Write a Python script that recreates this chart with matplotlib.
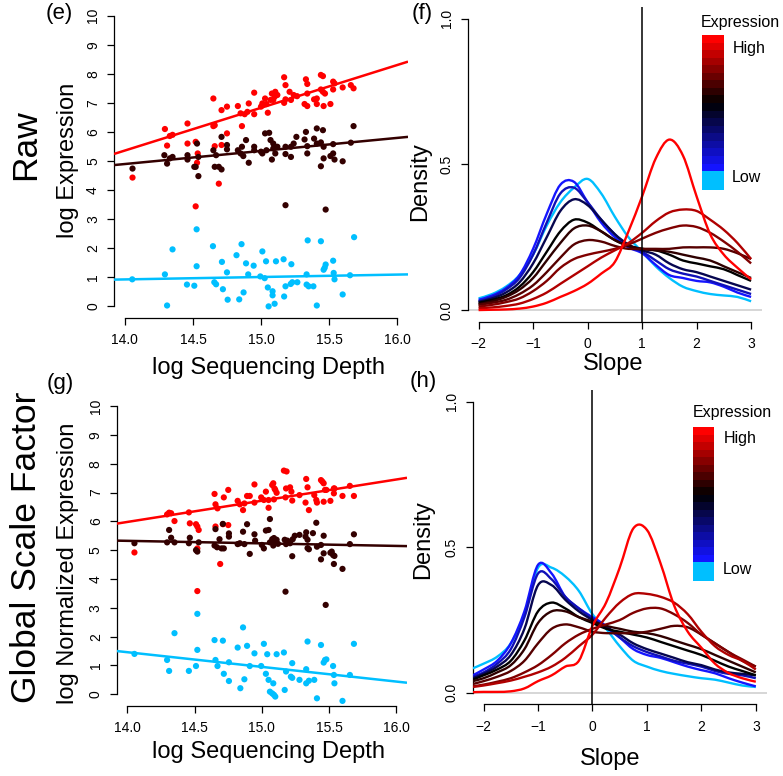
import matplotlib
matplotlib.use('Agg')
import matplotlib.pyplot as plt
import numpy as np
from matplotlib.patches import Rectangle, PathPatch
from matplotlib.path import Path
from matplotlib.colors import LinearSegmentedColormap

plt.rcParams['font.family'] = ['Liberation Sans', 'DejaVu Sans']

# ---------------- data ----------------
# scatter (e): raw log expression vs log sequencing depth
raw_high = [(14.056,4.43),(14.294,6.10),(14.31,5.53),(14.33,5.86),(14.35,5.90),(14.46,6.29),(14.46,5.60),
            (14.52,5.66),(14.535,5.26),(14.53,4.94),(14.52,3.44),(14.65,7.15),(14.65,6.20),(14.66,6.23),
            (14.66,5.51),(14.69,4.22),(14.71,5.55),(14.71,6.75),(14.75,6.87),(14.75,5.95),(14.83,6.89),
            (14.85,6.64),(14.86,6.20),(14.88,6.61),(14.90,6.69),(14.91,6.98),(14.95,7.35),(14.95,6.61),
            (15.00,6.87),(15.01,6.98),(15.03,7.15),(15.04,6.96),(15.05,6.66),(15.07,7.10),(15.08,7.32),
            (15.09,7.10),(15.10,7.21),(15.105,7.38),(15.12,7.27),(15.17,7.88),(15.17,7.00),(15.18,7.61),
            (15.18,7.12),(15.21,7.38),(15.22,7.10),(15.24,7.27),(15.265,7.23),(15.33,7.81),(15.34,7.65),
            (15.32,6.96),(15.34,6.89),(15.34,7.32),(15.39,7.12),(15.41,7.15),(15.41,6.96),(15.44,7.96),
            (15.455,7.92),(15.44,7.46),(15.455,7.38),(15.47,7.32),(15.46,6.89),(15.51,6.96),(15.53,7.73),
            (15.54,7.67),(15.53,7.46),(15.60,7.53),(15.66,7.61),(15.68,7.50)]
raw_mid = [(14.056,4.74),(14.29,5.20),(14.31,4.91),(14.33,5.09),(14.35,5.14),(14.46,5.20),(14.46,5.05),
           (14.52,4.80),(14.53,5.60),(14.54,5.14),(14.54,4.48),(14.51,4.80),(14.65,5.37),(14.66,4.80),
           (14.67,5.20),(14.69,4.80),(14.71,4.71),(14.71,5.83),(14.75,5.55),(14.75,5.40),(14.83,5.37),
           (14.85,5.26),(14.86,5.49),(14.87,5.17),(14.89,5.72),(14.91,4.94),(14.95,5.49),(14.95,5.37),
           (15.00,5.32),(15.01,5.26),(15.03,5.95),(15.04,5.37),(15.06,5.97),(15.07,5.72),(15.08,5.05),
           (15.09,5.60),(15.09,5.43),(15.105,5.26),(15.12,5.49),(15.18,5.49),(15.18,5.24),(15.18,3.48),
           (15.22,5.49),(15.22,5.14),(15.24,5.60),(15.26,5.83),(15.32,5.74),(15.33,6.00),(15.34,5.26),
           (15.34,5.51),(15.39,5.77),(15.41,6.12),(15.41,5.60),(15.44,4.82),(15.44,5.64),(15.455,6.06),
           (15.46,5.49),(15.46,5.09),(15.475,3.33),(15.51,5.17),(15.53,5.58),(15.53,5.26),(15.54,5.05),
           (15.60,4.99),(15.66,5.63),(15.68,6.20)]
raw_low = [(14.054,0.93),(14.294,1.10),(14.31,0.03),(14.35,1.96),(14.456,0.75),(14.51,0.71),(14.527,2.65),
           (14.527,1.38),(14.647,2.07),(14.657,0.83),(14.67,0.76),(14.713,1.53),(14.72,0.59),(14.75,1.17),
           (14.755,0.23),(14.82,1.76),(14.84,0.24),(14.857,2.14),(14.872,0.48),(14.89,1.48),(14.906,1.10),
           (14.946,1.40),(14.995,1.03),(15.01,1.89),(15.027,0.97),(15.037,1.55),(15.05,0.65),(15.056,0.0),
           (15.085,0.52),(15.085,0.38),(15.10,0.09),(15.11,1.55),(15.166,1.62),(15.17,0.34),(15.18,0.69),
           (15.218,0.77),(15.223,1.45),(15.23,0.83),(15.267,0.83),(15.335,1.10),(15.335,0.75),(15.35,0.69),
           (15.343,2.27),(15.385,0.69),(15.41,0.03),(15.44,2.24),(15.46,1.26),(15.468,1.33),(15.475,1.44),
           (15.53,1.57),(15.534,1.15),(15.54,0.93),(15.60,0.41),(15.654,1.07),(15.684,2.38)]

# scatter (g): global scale factor normalized
norm_high = [(14.052,4.92),(14.295,6.24),(14.31,6.30),(14.325,6.28),(14.35,6.01),(14.457,6.31),(14.464,5.93),
             (14.51,5.90),(14.52,5.82),(14.53,5.70),(14.52,5.06),(14.52,3.58),(14.648,6.95),(14.655,6.59),
             (14.67,6.45),(14.655,5.82),(14.69,4.52),(14.71,5.90),(14.75,5.87),(14.717,6.83),(14.75,7.09),
             (14.82,6.71),(14.836,6.59),(14.86,6.39),(14.87,6.62),(14.89,6.88),(14.91,6.88),(14.945,7.28),
             (14.945,6.65),(14.995,6.83),(15.015,6.74),(15.03,7.03),(15.05,6.74),(15.077,7.26),(15.085,7.32),
             (15.094,7.14),(15.11,6.99),(15.09,6.76),(15.10,7.09),(15.05,6.47),(15.164,7.76),(15.184,7.73),
             (15.176,6.83),(15.18,7.14),(15.21,7.18),(15.22,7.03),(15.226,6.72),(15.28,6.91),(15.33,7.47),
             (15.34,7.18),(15.325,6.65),(15.35,6.39),(15.39,6.91),(15.405,6.74),(15.41,6.65),(15.44,7.43),
             (15.45,7.38),(15.46,7.32),(15.47,7.09),(15.48,7.09),(15.46,6.68),(15.51,6.71),(15.536,7.14),
             (15.536,6.97),(15.54,7.14),(15.60,6.88),(15.655,7.23),(15.685,6.88)]
norm_mid = [(14.052,5.24),(14.295,5.27),(14.31,5.70),(14.325,5.43),(14.35,5.27),(14.457,5.24),(14.464,5.43),
            (14.51,5.00),(14.52,4.95),(14.53,5.27),(14.655,5.73),(14.648,5.16),(14.667,5.10),(14.685,5.38),
            (14.70,5.06),(14.717,5.06),(14.71,5.91),(14.755,5.58),(14.755,5.47),(14.82,5.21),(14.836,5.24),
            (14.87,5.21),(14.86,5.64),(14.89,5.90),(14.91,4.87),(14.945,5.55),(14.95,5.33),(15.00,5.18),
            (15.015,5.06),(15.03,5.68),(15.05,5.70),(15.06,6.08),(15.06,5.27),(15.077,5.38),(15.085,5.16),
            (15.09,5.42),(15.10,5.30),(15.11,5.36),(15.12,5.22),(15.17,5.36),(15.18,5.21),(15.176,3.56),
            (15.19,5.33),(15.226,4.79),(15.21,5.24),(15.23,5.38),(15.245,5.50),(15.28,5.53),(15.325,5.47),
            (15.33,5.62),(15.34,5.36),(15.34,5.07),(15.35,5.03),(15.38,5.59),(15.405,5.95),(15.41,5.12),
            (15.44,4.68),(15.44,5.18),(15.46,5.50),(15.46,4.89),(15.475,3.10),(15.51,4.91),(15.52,4.95),
            (15.53,4.83),(15.536,4.52),(15.54,4.80),(15.60,4.35),(15.655,5.21),(15.685,5.55)]
norm_low = [(14.052,1.40),(14.295,1.19),(14.31,0.81),(14.35,2.12),(14.457,0.81),(14.51,0.98),(14.52,2.79),
            (14.52,1.54),(14.648,1.88),(14.655,1.19),(14.67,0.98),(14.71,1.86),(14.717,0.71),(14.755,1.11),
            (14.755,0.46),(14.82,1.62),(14.84,0.21),(14.86,2.32),(14.87,0.52),(14.89,1.68),(14.91,0.98),
            (14.945,1.42),(14.995,0.98),(15.015,1.75),(15.03,0.71),(15.04,1.39),(15.05,0.50),(15.06,0.09),
            (15.077,0.03),(15.09,-0.02),(15.10,-0.08),(15.085,0.38),(15.11,1.39),(15.164,1.45),(15.17,0.15),
            (15.18,0.79),(15.216,0.61),(15.226,0.57),(15.226,1.08),(15.28,0.50),(15.33,0.87),(15.34,1.83),
            (15.33,0.38),(15.35,0.47),(15.39,0.50),(15.41,-0.14),(15.44,1.71),(15.46,1.10),(15.47,1.19),
            (15.48,1.21),(15.53,0.98),(15.536,0.67),(15.54,0.38),(15.60,-0.23),(15.655,0.67),(15.685,1.75)]

# fitted lines: value at depth 15 and slope, order high, mid, low
raw_fit_mid = [6.83, 5.345, 1.01]
raw_fit_slope = [1.47, 0.449, 0.083]
norm_fit_mid = [6.715, 5.235, 0.95]
norm_fit_slope = [0.736, -0.088, -0.509]

# density of slopes, expression deciles low -> high
slope_x_f = [-2, -1.75, -1.5, -1.25, -1, -0.75, -0.5, -0.25, 0, 0.25, 0.5, 0.75, 1, 1.25, 1.5, 1.75, 2, 2.25, 2.5, 2.75, 3]
dens_f = [
    [0.04, 0.055, 0.08, 0.12, 0.19, 0.29, 0.37, 0.42, 0.45, 0.40, 0.32, 0.25, 0.20, 0.15, 0.11, 0.08, 0.065, 0.055, 0.05, 0.045, 0.03],
    [0.035, 0.05, 0.075, 0.12, 0.21, 0.33, 0.43, 0.44, 0.37, 0.30, 0.25, 0.215, 0.195, 0.155, 0.12, 0.11, 0.10, 0.095, 0.08, 0.06, 0.045],
    [0.03, 0.045, 0.07, 0.11, 0.19, 0.30, 0.40, 0.42, 0.37, 0.31, 0.26, 0.22, 0.20, 0.17, 0.14, 0.125, 0.115, 0.10, 0.085, 0.07, 0.055],
    [0.028, 0.04, 0.06, 0.095, 0.16, 0.25, 0.34, 0.38, 0.36, 0.31, 0.26, 0.225, 0.205, 0.19, 0.16, 0.14, 0.13, 0.115, 0.10, 0.085, 0.07],
    [0.025, 0.035, 0.05, 0.08, 0.13, 0.20, 0.27, 0.31, 0.30, 0.27, 0.24, 0.22, 0.21, 0.205, 0.19, 0.17, 0.16, 0.15, 0.14, 0.12, 0.10],
    [0.02, 0.03, 0.045, 0.07, 0.11, 0.17, 0.23, 0.28, 0.29, 0.27, 0.24, 0.22, 0.21, 0.205, 0.20, 0.19, 0.18, 0.17, 0.15, 0.13, 0.11],
    [0.018, 0.025, 0.035, 0.055, 0.085, 0.13, 0.18, 0.225, 0.24, 0.235, 0.22, 0.21, 0.21, 0.21, 0.21, 0.215, 0.215, 0.215, 0.21, 0.195, 0.175],
    [0.012, 0.018, 0.027, 0.04, 0.065, 0.10, 0.145, 0.175, 0.19, 0.20, 0.21, 0.225, 0.245, 0.265, 0.28, 0.29, 0.285, 0.265, 0.235, 0.20, 0.16],
    [0.006, 0.009, 0.014, 0.022, 0.038, 0.06, 0.09, 0.12, 0.15, 0.18, 0.205, 0.23, 0.265, 0.305, 0.335, 0.345, 0.34, 0.31, 0.275, 0.23, 0.175],
    [0.0, 0.001, 0.002, 0.005, 0.012, 0.025, 0.045, 0.065, 0.09, 0.125, 0.165, 0.27, 0.39, 0.52, 0.585, 0.53, 0.39, 0.26, 0.19, 0.145, 0.105],
]
slope_x_h = [-2.2, -2, -1.75, -1.5, -1.25, -1, -0.75, -0.5, -0.25, 0, 0.25, 0.5, 0.75, 1, 1.25, 1.5, 1.75, 2, 2.25, 2.5, 2.75, 3]
dens_h = [
    [0.084, 0.10, 0.124, 0.17, 0.27, 0.43, 0.43, 0.40, 0.35, 0.27, 0.22, 0.16, 0.11, 0.09, 0.075, 0.065, 0.057, 0.05, 0.045, 0.035, 0.025, 0.02],
    [0.06, 0.08, 0.11, 0.17, 0.28, 0.44, 0.41, 0.33, 0.29, 0.26, 0.23, 0.19, 0.15, 0.13, 0.12, 0.105, 0.09, 0.078, 0.067, 0.05, 0.035, 0.022],
    [0.055, 0.07, 0.10, 0.15, 0.26, 0.41, 0.39, 0.33, 0.29, 0.255, 0.225, 0.19, 0.16, 0.14, 0.125, 0.11, 0.10, 0.09, 0.075, 0.065, 0.06, 0.05],
    [0.05, 0.065, 0.09, 0.13, 0.22, 0.37, 0.37, 0.32, 0.28, 0.25, 0.225, 0.20, 0.17, 0.15, 0.135, 0.12, 0.105, 0.095, 0.08, 0.07, 0.065, 0.06],
    [0.045, 0.06, 0.08, 0.11, 0.18, 0.28, 0.31, 0.29, 0.26, 0.24, 0.22, 0.21, 0.20, 0.19, 0.175, 0.16, 0.145, 0.13, 0.11, 0.09, 0.075, 0.06],
    [0.04, 0.05, 0.07, 0.095, 0.15, 0.24, 0.28, 0.28, 0.26, 0.245, 0.23, 0.22, 0.21, 0.205, 0.195, 0.18, 0.165, 0.15, 0.13, 0.11, 0.09, 0.07],
    [0.03, 0.04, 0.055, 0.075, 0.11, 0.17, 0.22, 0.235, 0.225, 0.21, 0.205, 0.205, 0.205, 0.21, 0.22, 0.23, 0.225, 0.20, 0.17, 0.14, 0.11, 0.09],
    [0.022, 0.028, 0.038, 0.05, 0.07, 0.095, 0.13, 0.17, 0.20, 0.22, 0.235, 0.25, 0.275, 0.29, 0.29, 0.27, 0.24, 0.20, 0.17, 0.14, 0.115, 0.09],
    [0.02, 0.025, 0.033, 0.042, 0.055, 0.07, 0.09, 0.12, 0.16, 0.20, 0.26, 0.31, 0.34, 0.34, 0.33, 0.31, 0.27, 0.21, 0.16, 0.13, 0.11, 0.08],
    [0.002, 0.003, 0.003, 0.005, 0.015, 0.04, 0.06, 0.09, 0.11, 0.23, 0.31, 0.43, 0.565, 0.56, 0.445, 0.30, 0.21, 0.155, 0.10, 0.068, 0.05, 0.038],
]

group_colors = ['#FF0000', '#330000', '#00BFFF']   # high, mid, low
decile_colors = ['#00BFFF', '#1515FF', '#1010B8', '#06064F', '#000000',
                 '#2E0000', '#560000', '#800000', '#B00000', '#FF0000']

W, H = 783, 776


def box(l, t, r, b):
    return [l / W, 1 - b / H, (r - l) / W, (b - t) / H]


def txt(fig, x, y, s, **kw):
    fig.text(x / W, 1 - y / H, s, **kw)


def r_axes(ax, xlim, ylim, xticks, yticks, xfmt, yfmt):
    ax.set_xlim(xlim)
    ax.set_ylim(ylim)
    for s in ['top', 'right']:
        ax.spines[s].set_visible(False)
    ax.spines['left'].set_bounds(yticks[0], yticks[-1])
    ax.spines['bottom'].set_bounds(xticks[0], xticks[-1])
    ax.set_xticks(xticks)
    ax.set_xticklabels([xfmt(v) for v in xticks])
    ax.set_yticks(yticks)
    ax.set_yticklabels([yfmt(v) for v in yticks], rotation=90, va='center')
    ax.tick_params(direction='out', length=5, width=0.9, labelsize=10, pad=5)
    ax.tick_params(axis='x', pad=6)
    for s in ['left', 'bottom']:
        ax.spines[s].set_linewidth(0.9)
    ax.patch.set_alpha(0)


def smooth_curve(xs, ys):
    # draw a smooth line through the points (Catmull-Rom as cubic Bezier)
    P = np.column_stack([xs, ys]).astype(float)
    verts = [P[0]]
    codes = [Path.MOVETO]
    for i in range(len(P) - 1):
        p0 = P[i - 1] if i > 0 else P[i]
        p1, p2 = P[i], P[i + 1]
        p3 = P[i + 2] if i + 2 < len(P) else P[i + 1]
        verts += [p1 + (p2 - p0) / 6, p2 - (p3 - p1) / 6, p2]
        codes += [Path.CURVE4] * 3
    return Path(verts, codes)


def scatter_panel(ax, groups, mids, slopes):
    xlim = (13.92, 16.08)
    for pts, col in zip(groups, group_colors):
        p = np.array(pts)
        ax.scatter(p[:, 0], p[:, 1], s=20, color=col, edgecolors='none', zorder=3)
    xx = np.array(xlim)
    for m, b, col in zip(mids, slopes, group_colors):
        ax.plot(xx, m + b * (xx - 15), color=col, lw=1.8, zorder=4, solid_capstyle='butt')
    r_axes(ax, xlim, (-0.4, 10.4), [14.0, 14.5, 15.0, 15.5, 16.0], list(range(11)),
           lambda v: '%.1f' % v, lambda v: '%d' % v)


def density_panel(ax, xs, dens, vline, xticks):
    ax.axhline(0, color='#D0D0D0', lw=1.2, zorder=1)
    for d, col in zip(dens, decile_colors):
        ax.add_patch(PathPatch(smooth_curve(xs, d), fill=False, edgecolor=col, lw=1.7,
                               zorder=3, joinstyle='round', capstyle='butt'))
    ax.axvline(vline, color='black', lw=1.1, zorder=4)
    r_axes(ax, (-2.2, 3.2), (-0.04, 1.04), xticks, [0.0, 0.5, 1.0],
           lambda v: '%d' % v if v >= 0 else '\u2212%d' % -v, lambda v: '%.1f' % v)


def legend_bar(fig, l, t, r, b):
    # color key: cyan for lowest, then blue -> black -> red
    cmap = LinearSegmentedColormap.from_list('bkr', ['#1414FF', '#000000', '#FF0000'])
    n = 18
    cyan_h = (b - t) * 2.5 / (n + 2.5)
    step = (b - t - cyan_h) / n
    fig.add_artist(Rectangle((l / W, 1 - b / H), (r - l) / W, cyan_h / H,
                             transform=fig.transFigure, color='#00BFFF', lw=0))
    for i in range(n):
        y0 = b - cyan_h - (i + 1) * step
        fig.add_artist(Rectangle((l / W, 1 - (y0 + step) / H), (r - l) / W, step / H + 0.0005,
                                 transform=fig.transFigure, color=cmap(i / (n - 1)), lw=0))


fig = plt.figure(figsize=(W / 100, H / 100), dpi=100)

ax_e = fig.add_axes(box(114, 4, 408, 318))
scatter_panel(ax_e, [raw_high, raw_mid, raw_low], raw_fit_mid, raw_fit_slope)
ax_g = fig.add_axes(box(116.7, 394.5, 407, 705.8))
scatter_panel(ax_g, [norm_high, norm_mid, norm_low], norm_fit_mid, norm_fit_slope)

ax_f = fig.add_axes(box(467.7, 7, 762, 321.7))
density_panel(ax_f, slope_x_f, dens_f, 1, [-2, -1, 0, 1, 2, 3])
ax_h = fig.add_axes(box(472.7, 390.3, 766.7, 704.4))
density_panel(ax_h, slope_x_h, dens_h, 0, [-2, -1, 0, 1, 2, 3])

# text labels
lab = 17
txt(fig, 59, 14, '(e)', fontsize=16, ha='center', va='center')
txt(fig, 422, 14, '(f)', fontsize=16, ha='center', va='center')
txt(fig, 60, 383, '(g)', fontsize=16, ha='center', va='center')
txt(fig, 423, 382, '(h)', fontsize=16, ha='center', va='center')

txt(fig, 26, 145, 'Raw', fontsize=25.5, rotation=90, ha='center', va='center')
txt(fig, 27, 547, 'Global Scale Factor', fontsize=25.5, rotation=90, ha='center', va='center')

txt(fig, 68, 160, 'log Expression', fontsize=lab, rotation=90, ha='center', va='center')
txt(fig, 68, 563, 'log Normalized Expression', fontsize=lab, rotation=90, ha='center', va='center')
txt(fig, 268, 368, 'log Sequencing Depth', fontsize=lab, ha='center', va='center')
txt(fig, 268, 752, 'log Sequencing Depth', fontsize=lab, ha='center', va='center')

txt(fig, 420, 182, 'Density', fontsize=lab, rotation=90, ha='center', va='center')
txt(fig, 423, 540, 'Density', fontsize=lab, rotation=90, ha='center', va='center')
txt(fig, 613, 364, 'Slope', fontsize=lab, ha='center', va='center')
txt(fig, 610, 759, 'Slope', fontsize=lab, ha='center', va='center')

# color keys
legend_bar(fig, 701.7, 35, 724, 190)
txt(fig, 740, 23, 'Expression', fontsize=11.5, ha='center', va='center')
txt(fig, 733, 48, 'High', fontsize=11.5, ha='left', va='center')
txt(fig, 732, 178, 'Low', fontsize=11.5, ha='left', va='center')

legend_bar(fig, 692.7, 427, 714, 581)
txt(fig, 732, 413, 'Expression', fontsize=11.5, ha='center', va='center')
txt(fig, 724, 439, 'High', fontsize=11.5, ha='left', va='center')
txt(fig, 723, 569, 'Low', fontsize=11.5, ha='left', va='center')

fig.savefig('out.png', dpi=100)
